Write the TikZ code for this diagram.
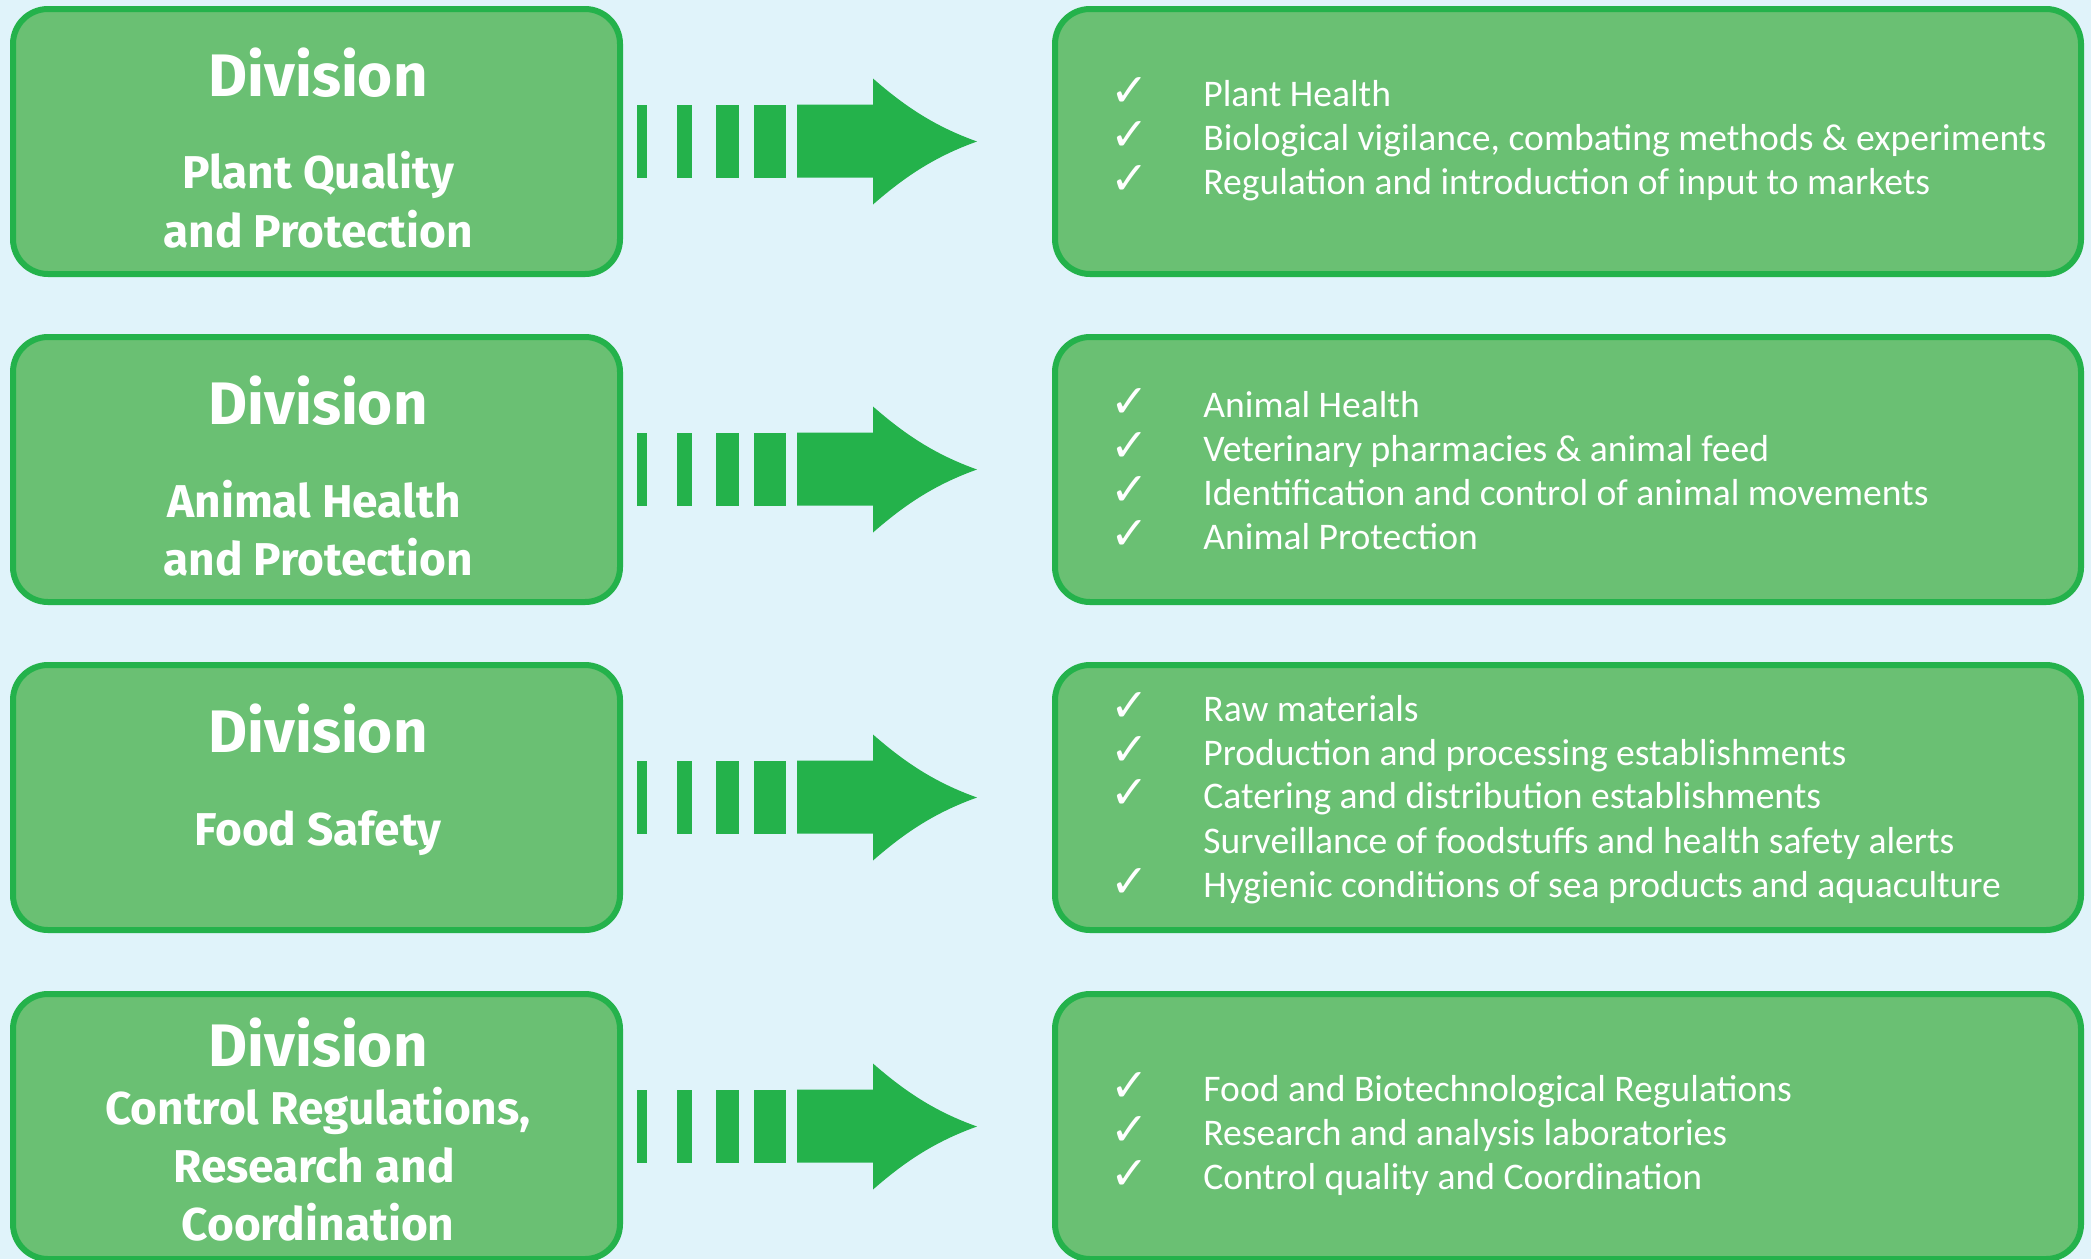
\documentclass[tikz,border=0pt]{standalone}
\usepackage{fontspec}
\setmainfont{Carlito}
\newfontfamily\titlefont{Fira Sans}
\newfontfamily\checkfont{DejaVu Sans}
\definecolor{bgblue}{RGB}{224,243,250}
\definecolor{gfill}{RGB}{106,192,115}
\definecolor{gborder}{RGB}{36,178,75}
\begin{document}
\begin{tikzpicture}[x=0.5pt,y=-0.5pt,
  lbox/.style={draw=gborder,fill=gfill,line width=3pt,rounded corners=17.5pt,
    minimum width=303.5pt,minimum height=132.5pt,inner sep=0pt,outer sep=0pt},
  rbox/.style={lbox,minimum width=513pt},
  divt/.style={text=white,font=\titlefont\bfseries\fontsize{30}{36}\selectfont,anchor=base,inner sep=0pt},
  subt/.style={text=white,font=\titlefont\bfseries\fontsize{23}{27}\selectfont,anchor=base,inner sep=0pt},
  item/.style={text=white,font=\fontsize{18.8}{22}\selectfont,anchor=base west,inner sep=0pt},
  chk/.style={text=white,font=\checkfont\fontsize{23}{26}\selectfont,anchor=base west,inner sep=0pt},
  pics/bigarrow/.style={code={
    \fill[gborder] (17,-37) rectangle (27,36);
    \fill[gborder] (57,-37) rectangle (72,36);
    \fill[gborder] (96,-37) rectangle (119,36);
    \fill[gborder] (134,-37) rectangle (166,36);
    \fill[gborder] (177,-37) -- (253,-37) -- (253,-63)
      .. controls (285,-35) and (315,-15) .. (357,0)
      .. controls (315,15) and (285,35) .. (253,63)
      -- (253,36) -- (177,36) -- cycle;
  }}]
\useasboundingbox (0,0) rectangle (2091,1259);
\fill[bgblue] (0,0) rectangle (2091,1259);
\begin{scope}
\clip (0,0) rectangle (2091,1259);
% boxes
\node[lbox] (L1) at (316.5,141.5) {};
\node[rbox] (R1) at (1568,141.5) {};
\node[lbox] (L2) at (316.5,469.5) {};
\node[rbox] (R2) at (1568,469.5) {};
\node[lbox] (L3) at (316.5,797.5) {};
\node[rbox] (R3) at (1568,797.5) {};
\node[lbox] (L4) at (316.5,1126.5) {};
\node[rbox] (R4) at (1568,1126.5) {};
\end{scope}
% arrows
\pic at (L1.east) {bigarrow};
\pic at (L2.east) {bigarrow};
\pic at (L3.east) {bigarrow};
\pic at (L4.east) {bigarrow};
% left titles
\node[divt] (d1) at (318,96) {Division};
\node[subt] (s1a) at (318,188) {Plant Quality};
\node[subt] (s1b) at (318,247) {and Protection};
\node[divt] (d2) at (318,424) {Division};
\node[subt] (s2a) at (314,517) {Animal Health};
\node[subt] (s2b) at (318,575) {and Protection};
\node[divt] (d3) at (318,752) {Division};
\node[subt] (s3a) at (318,845) {Food Safety};
\node[divt] (d4) at (318,1066) {Division};
\node[subt] (s4a) at (318,1124) {Control Regulations,};
\node[subt] (s4b) at (314,1182) {Research and};
\node[subt] (s4c) at (318,1240) {Coordination};
% right items
\node[chk] (c1a) at (1110,106) {✓};
\node[item] (i1a) at (1203,106) {Plant Health};
\node[chk] (c1b) at (1110,150) {✓};
\node[item] (i1b) at (1203,150) {Biological vigilance, combating methods \& experiments};
\node[chk] (c1c) at (1110,194) {✓};
\node[item] (i1c) at (1203,194) {Regulation and introduction of input to markets};
\node[chk] (c2a) at (1110,417) {✓};
\node[item] (i2a) at (1203,417) {Animal Health};
\node[chk] (c2b) at (1110,461) {✓};
\node[item] (i2b) at (1203,461) {Veterinary pharmacies \& animal feed};
\node[chk] (c2c) at (1110,505) {✓};
\node[item] (i2c) at (1203,505) {Identification and control of animal movements};
\node[chk] (c2d) at (1110,549) {✓};
\node[item] (i2d) at (1203,549) {Animal Protection};
\node[chk] (c3a) at (1110,721) {✓};
\node[item] (i3a) at (1203,721) {Raw materials};
\node[chk] (c3b) at (1110,765) {✓};
\node[item] (i3b) at (1203,765) {Production and processing establishments};
\node[chk] (c3c) at (1110,808) {✓};
\node[item] (i3c) at (1203,808) {Catering and distribution establishments};
\node[item] (i3d) at (1203,853) {Surveillance of foodstuffs and health safety alerts};
\node[chk] (c3e) at (1110,897) {✓};
\node[item] (i3e) at (1203,897) {Hygienic conditions of sea products and aquaculture};
\node[chk] (c4a) at (1110,1101) {✓};
\node[item] (i4a) at (1203,1101) {Food and Biotechnological Regulations};
\node[chk] (c4b) at (1110,1145) {✓};
\node[item] (i4b) at (1203,1145) {Research and analysis laboratories};
\node[chk] (c4c) at (1110,1189) {✓};
\node[item] (i4c) at (1203,1189) {Control quality and Coordination};
\end{tikzpicture}
\end{document}
